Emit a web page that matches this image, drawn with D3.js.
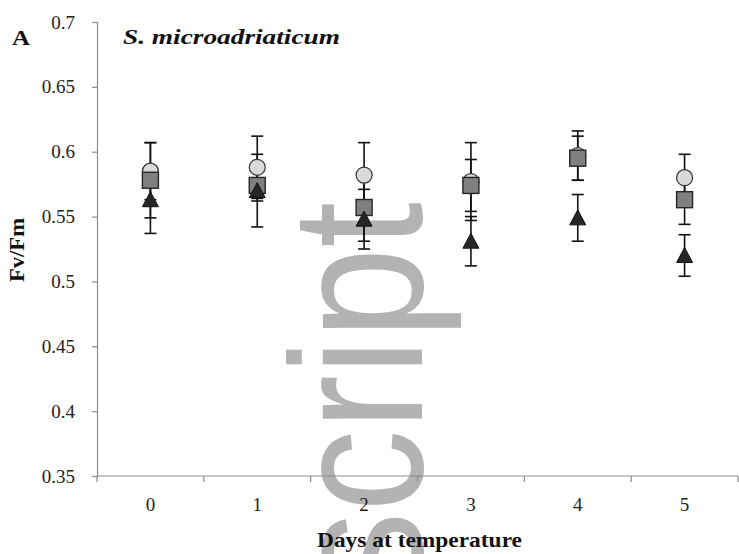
<!DOCTYPE html>
<html><head><meta charset="utf-8">
<script src="https://cdn.jsdelivr.net/npm/d3@7"></script>
<style>
html,body{margin:0;padding:0;background:#fff;}
svg{display:block;}
.serif{font-family:"Liberation Serif","Times New Roman",Tinos,"DejaVu Serif",serif;}
</style></head>
<body>
<svg id="chart" width="739" height="554"></svg>
<script>
const days = ["0", "1", "2", "3", "4", "5"];
const yTicks = [0.35, 0.4, 0.45, 0.5, 0.55, 0.6, 0.65, 0.7];
const circleVals = [0.585, 0.588, 0.582, 0.577, 0.597, 0.580];
const circleErr  = [0.022, 0.024, 0.025, 0.030, 0.019, 0.018];
const squareVals = [0.578, 0.574, 0.557, 0.574, 0.595, 0.563];
const squareErr  = [0.029, 0.012, 0.026, 0.020, 0.017, 0.019];
const triVals    = [0.563, 0.570, 0.548, 0.531, 0.549, 0.520];
const triErr     = [0.026, 0.028, 0.023, 0.019, 0.018, 0.016];

const svg = d3.select("#chart");
const mLeft = 97, mRight = 738, mTop = 22, mBottom = 476;

const x = d3.scaleBand().domain(days).range([mLeft, mRight]);
const y = d3.scaleLinear().domain([0.35, 0.7]).range([mBottom, mTop]);

// watermark
svg.append("text")
  .attr("transform", `translate(422,202) scale(1.14,1) rotate(-90)`)
  .attr("text-anchor", "end")
  .style("font-family", "'Liberation Sans', Arial, sans-serif")
  .attr("font-size", 164)
  .attr("fill", "#b3b3b3")
  .text("script");

// axes
const yAxis = svg.append("g").attr("transform", `translate(${mLeft},0)`)
  .call(d3.axisLeft(y).tickValues(yTicks).tickSize(5)
    .tickFormat(d => String(+d.toFixed(2))));
const xAxis = svg.append("g").attr("transform", `translate(0,${mBottom})`)
  .call(d3.axisBottom(x).tickSize(0).tickPadding(22));
[yAxis, xAxis].forEach(g => {
  g.select(".domain").attr("stroke", "#8c8c8c").attr("stroke-width", 1.2);
  g.selectAll(".tick line").attr("stroke", "#8c8c8c").attr("stroke-width", 1.2);
  g.selectAll("text").attr("class", "serif")
    .attr("font-size", 19).attr("fill", "#222");
});
yAxis.selectAll(".tick text").attr("x", -22);
xAxis.select(".domain").attr("d", `M${mLeft},0H${mRight}`);
// band-edge ticks on x axis
const edges = days.map(d => x(d)).concat([mRight]);
xAxis.selectAll(".edge").data(edges).enter().append("line")
  .attr("x1", d => d).attr("x2", d => d).attr("y1", 0).attr("y2", 6)
  .attr("stroke", "#8c8c8c").attr("stroke-width", 1.2);

// error bars
const series = [
  {vals: circleVals, err: circleErr},
  {vals: squareVals, err: squareErr},
  {vals: triVals, err: triErr}
];
const eb = svg.append("g").attr("stroke", "#111").attr("stroke-width", 1.6).attr("fill", "none");
series.forEach(s => {
  days.forEach((d, i) => {
    const cx = x(d) + x.bandwidth() / 2;
    const hi = y(s.vals[i] + s.err[i]), lo = y(s.vals[i] - s.err[i]);
    eb.append("line").attr("x1", cx).attr("x2", cx).attr("y1", hi).attr("y2", lo);
    eb.append("line").attr("x1", cx - 6).attr("x2", cx + 6).attr("y1", hi).attr("y2", hi);
    eb.append("line").attr("x1", cx - 6).attr("x2", cx + 6).attr("y1", lo).attr("y2", lo);
  });
});

// markers
const cxOf = d => x(d) + x.bandwidth() / 2;
svg.append("g").selectAll("circle").data(days).enter().append("circle")
  .attr("cx", cxOf).attr("cy", (d, i) => y(circleVals[i])).attr("r", 8)
  .attr("fill", "#d9d9d9").attr("stroke", "#333").attr("stroke-width", 1.2);
svg.append("g").selectAll("rect").data(days).enter().append("rect")
  .attr("x", d => cxOf(d) - 8).attr("y", (d, i) => y(squareVals[i]) - 8)
  .attr("width", 16).attr("height", 16)
  .attr("fill", "#808080").attr("stroke", "#262626").attr("stroke-width", 1.4);
svg.append("g").selectAll("path").data(days).enter().append("path")
  .attr("d", (d, i) => {
    const cx = cxOf(d), cy = y(triVals[i]);
    return `M${cx},${cy - 8}L${cx + 8},${cy + 7}L${cx - 8},${cy + 7}Z`;
  })
  .attr("fill", "#262626").attr("stroke", "#111").attr("stroke-width", 1);

// titles
svg.append("text").attr("class", "serif").attr("x", 12).attr("y", 45)
  .attr("font-weight", "bold").attr("font-size", 20).attr("fill", "#111")
  .attr("textLength", 18).attr("lengthAdjust", "spacingAndGlyphs").text("A");
svg.append("text").attr("class", "serif").attr("x", 123).attr("y", 44)
  .attr("font-weight", "bold").attr("font-style", "italic").attr("font-size", 22)
  .attr("textLength", 217).attr("lengthAdjust", "spacingAndGlyphs")
  .attr("fill", "#111").text("S. microadriaticum");
svg.append("text").attr("class", "serif")
  .attr("transform", `translate(24,282) rotate(-90)`)
  .attr("font-weight", "bold").attr("font-size", 20)
  .attr("textLength", 64).attr("lengthAdjust", "spacingAndGlyphs")
  .attr("fill", "#111").text("Fv/Fm");
svg.append("text").attr("class", "serif").attr("x", 317).attr("y", 547)
  .attr("font-weight", "bold").attr("font-size", 21)
  .attr("textLength", 205).attr("lengthAdjust", "spacingAndGlyphs")
  .attr("fill", "#111").text("Days at temperature");
</script>
</body></html>
